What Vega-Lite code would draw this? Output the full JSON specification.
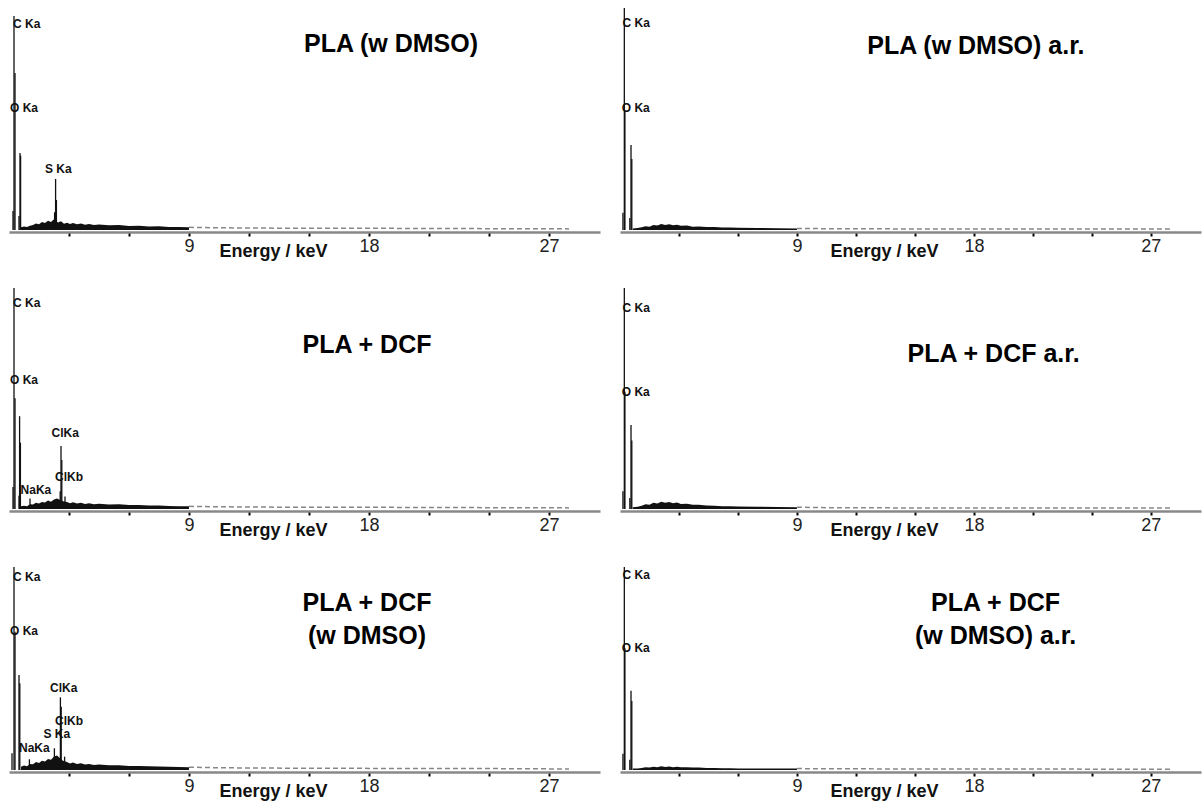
{
  "$schema": "https://vega.github.io/schema/vega-lite/v6.json",
  "background": "white",
  "padding": {"left": 9, "top": 7, "right": 1, "bottom": 1},
  "columns": 2,
  "spacing": {"row": 58, "column": 20},
  "align": "each",
  "bounds": "flush",
  "center": false,
  "config": {
    "view": {"stroke": null},
    "axis": {
      "grid": false,
      "ticks": true,
      "domainColor": "#888888",
      "domainWidth": 2.5,
      "tickColor": "#000000",
      "tickWidth": 2,
      "tickSize": 4,
      "labelFont": "Liberation Sans",
      "labelFontSize": 18,
      "labelColor": "#222222",
      "labelPadding": 1,
      "labelOverlap": false,
      "titleFont": "Liberation Sans",
      "titleFontSize": 18,
      "titleFontWeight": "bold",
      "titleColor": "#111111",
      "titleX": 264,
      "titleY": 19,
      "titleBaseline": "middle",
      "titleAlign": "center"
    }
  },
  "datasets": {
    "rows": [
      {"p":"A","k":"pk","e":0.2,"c":8.6},{"p":"A","k":"pk","e":0.25,"c":96.4},{"p":"A","k":"pk","e":0.3,"c":70.7},{"p":"A","k":"pk","e":0.5,"c":6.3},{"p":"A","k":"pk","e":0.55,"c":34.7},{"p":"A","k":"pk","e":0.58,"c":33.5},{"p":"A","k":"pk","e":2.28,"c":8},{"p":"A","k":"pk","e":2.33,"c":23},{"p":"A","k":"pk","e":2.37,"c":13.5},
      {"p":"A","k":"bg","e":0.6,"c":1.2},{"p":"A","k":"bg","e":0.75,"c":1.6},{"p":"A","k":"bg","e":0.9,"c":1.3},{"p":"A","k":"bg","e":1.05,"c":1.9},{"p":"A","k":"bg","e":1.2,"c":2.2},{"p":"A","k":"bg","e":1.35,"c":2.9},{"p":"A","k":"bg","e":1.5,"c":2.6},{"p":"A","k":"bg","e":1.65,"c":3.6},{"p":"A","k":"bg","e":1.8,"c":3.1},{"p":"A","k":"bg","e":1.95,"c":4.2},{"p":"A","k":"bg","e":2.1,"c":3.6},{"p":"A","k":"bg","e":2.25,"c":4.8},{"p":"A","k":"bg","e":2.45,"c":3.4},{"p":"A","k":"bg","e":2.6,"c":3.9},{"p":"A","k":"bg","e":2.75,"c":2.8},{"p":"A","k":"bg","e":2.9,"c":3.3},{"p":"A","k":"bg","e":3.05,"c":2.7},{"p":"A","k":"bg","e":3.2,"c":3.1},{"p":"A","k":"bg","e":3.4,"c":2.6},{"p":"A","k":"bg","e":3.6,"c":2.9},{"p":"A","k":"bg","e":3.8,"c":2.4},{"p":"A","k":"bg","e":4.0,"c":2.7},{"p":"A","k":"bg","e":4.25,"c":2.2},{"p":"A","k":"bg","e":4.5,"c":2.5},{"p":"A","k":"bg","e":5.0,"c":2.1},{"p":"A","k":"bg","e":5.5,"c":2.2},{"p":"A","k":"bg","e":6.0,"c":1.8},{"p":"A","k":"bg","e":6.5,"c":1.9},{"p":"A","k":"bg","e":7.0,"c":1.6},{"p":"A","k":"bg","e":7.5,"c":1.7},{"p":"A","k":"bg","e":8.0,"c":1.4},{"p":"A","k":"bg","e":8.5,"c":1.4},{"p":"A","k":"bg","e":9.0,"c":1.2},{"p":"A","k":"bg","e":10.5,"c":1.0},{"p":"A","k":"bg","e":12,"c":0.9},{"p":"A","k":"bg","e":14,"c":0.8},{"p":"A","k":"bg","e":16,"c":0.8},{"p":"A","k":"bg","e":18,"c":0.8},{"p":"A","k":"bg","e":20,"c":0.7},{"p":"A","k":"bg","e":22,"c":0.7},{"p":"A","k":"bg","e":24,"c":0.6},{"p":"A","k":"bg","e":26,"c":0.6},{"p":"A","k":"bg","e":28,"c":0.5},
      {"p":"A","k":"lab","e":0.2,"c":92.8,"t":"C Ka"},{"p":"A","k":"lab","e":0.05,"c":55,"t":"O Ka"},{"p":"A","k":"lab","e":1.8,"c":27.5,"t":"S Ka"},
      {"p":"A","k":"ttl","e":19.1,"c":83.8,"t":"PLA (w DMSO)"},

      {"p":"B","k":"pk","e":0.2,"c":10},{"p":"B","k":"pk","e":0.25,"c":100},{"p":"B","k":"pk","e":0.3,"c":50.1},{"p":"B","k":"pk","e":0.5,"c":6},{"p":"B","k":"pk","e":0.53,"c":42},{"p":"B","k":"pk","e":0.57,"c":30},{"p":"B","k":"pk","e":1.05,"c":4.8},{"p":"B","k":"pk","e":2.56,"c":8},{"p":"B","k":"pk","e":2.6,"c":28.5},{"p":"B","k":"pk","e":2.64,"c":22.2},{"p":"B","k":"pk","e":2.8,"c":5.6},
      {"p":"B","k":"bg","e":0.6,"c":1.2},{"p":"B","k":"bg","e":0.75,"c":1.5},{"p":"B","k":"bg","e":0.9,"c":1.3},{"p":"B","k":"bg","e":1.05,"c":2.1},{"p":"B","k":"bg","e":1.2,"c":2.0},{"p":"B","k":"bg","e":1.35,"c":2.8},{"p":"B","k":"bg","e":1.5,"c":2.5},{"p":"B","k":"bg","e":1.65,"c":3.2},{"p":"B","k":"bg","e":1.8,"c":2.9},{"p":"B","k":"bg","e":1.95,"c":3.8},{"p":"B","k":"bg","e":2.1,"c":3.3},{"p":"B","k":"bg","e":2.25,"c":4.3},{"p":"B","k":"bg","e":2.4,"c":4.8},{"p":"B","k":"bg","e":2.7,"c":3.5},{"p":"B","k":"bg","e":2.9,"c":3.2},{"p":"B","k":"bg","e":3.05,"c":2.6},{"p":"B","k":"bg","e":3.2,"c":3.0},{"p":"B","k":"bg","e":3.4,"c":2.5},{"p":"B","k":"bg","e":3.6,"c":2.8},{"p":"B","k":"bg","e":3.8,"c":2.3},{"p":"B","k":"bg","e":4.0,"c":2.6},{"p":"B","k":"bg","e":4.25,"c":2.1},{"p":"B","k":"bg","e":4.5,"c":2.4},{"p":"B","k":"bg","e":5.0,"c":2.0},{"p":"B","k":"bg","e":5.5,"c":2.1},{"p":"B","k":"bg","e":6.0,"c":1.8},{"p":"B","k":"bg","e":6.5,"c":1.8},{"p":"B","k":"bg","e":7.0,"c":1.6},{"p":"B","k":"bg","e":7.5,"c":1.6},{"p":"B","k":"bg","e":8.0,"c":1.4},{"p":"B","k":"bg","e":8.5,"c":1.3},{"p":"B","k":"bg","e":9.0,"c":1.2},{"p":"B","k":"bg","e":10.5,"c":1.0},{"p":"B","k":"bg","e":12,"c":0.9},{"p":"B","k":"bg","e":14,"c":0.8},{"p":"B","k":"bg","e":16,"c":0.8},{"p":"B","k":"bg","e":18,"c":0.8},{"p":"B","k":"bg","e":20,"c":0.7},{"p":"B","k":"bg","e":22,"c":0.7},{"p":"B","k":"bg","e":24,"c":0.6},{"p":"B","k":"bg","e":26,"c":0.6},{"p":"B","k":"bg","e":28,"c":0.5},
      {"p":"B","k":"lab","e":0.2,"c":93.3,"t":"C Ka"},{"p":"B","k":"lab","e":0.05,"c":58.4,"t":"O Ka"},{"p":"B","k":"lab","e":2.13,"c":34.5,"t":"ClKa"},{"p":"B","k":"lab","e":2.3,"c":14.6,"t":"ClKb"},{"p":"B","k":"lab","e":0.58,"c":8.6,"t":"NaKa"},
      {"p":"B","k":"ttl","e":17.9,"c":74,"t":"PLA + DCF"},

      {"p":"C","k":"pk","e":0.15,"c":8.2},{"p":"C","k":"pk","e":0.25,"c":100},{"p":"C","k":"pk","e":0.3,"c":68.1},{"p":"C","k":"pk","e":0.5,"c":46.8},{"p":"C","k":"pk","e":0.54,"c":42.7},{"p":"C","k":"pk","e":1.02,"c":5.3},{"p":"C","k":"pk","e":2.27,"c":10.7},{"p":"C","k":"pk","e":2.57,"c":35.8},{"p":"C","k":"pk","e":2.61,"c":31.2},{"p":"C","k":"pk","e":2.78,"c":6.6},
      {"p":"C","k":"bg","e":0.6,"c":1.6},{"p":"C","k":"bg","e":0.75,"c":2.2},{"p":"C","k":"bg","e":0.9,"c":1.9},{"p":"C","k":"bg","e":1.05,"c":3.0},{"p":"C","k":"bg","e":1.2,"c":2.8},{"p":"C","k":"bg","e":1.35,"c":3.9},{"p":"C","k":"bg","e":1.5,"c":3.5},{"p":"C","k":"bg","e":1.65,"c":4.6},{"p":"C","k":"bg","e":1.8,"c":4.2},{"p":"C","k":"bg","e":1.95,"c":5.4},{"p":"C","k":"bg","e":2.1,"c":5.0},{"p":"C","k":"bg","e":2.25,"c":6.6},{"p":"C","k":"bg","e":2.4,"c":7.2},{"p":"C","k":"bg","e":2.7,"c":4.6},{"p":"C","k":"bg","e":2.9,"c":4.0},{"p":"C","k":"bg","e":3.05,"c":3.2},{"p":"C","k":"bg","e":3.2,"c":3.7},{"p":"C","k":"bg","e":3.4,"c":3.0},{"p":"C","k":"bg","e":3.6,"c":3.3},{"p":"C","k":"bg","e":3.8,"c":2.7},{"p":"C","k":"bg","e":4.0,"c":3.0},{"p":"C","k":"bg","e":4.25,"c":2.5},{"p":"C","k":"bg","e":4.5,"c":2.7},{"p":"C","k":"bg","e":5.0,"c":2.3},{"p":"C","k":"bg","e":5.5,"c":2.3},{"p":"C","k":"bg","e":6.0,"c":2.0},{"p":"C","k":"bg","e":6.5,"c":2.0},{"p":"C","k":"bg","e":7.0,"c":1.8},{"p":"C","k":"bg","e":7.5,"c":1.7},{"p":"C","k":"bg","e":8.0,"c":1.6},{"p":"C","k":"bg","e":8.5,"c":1.5},{"p":"C","k":"bg","e":9.0,"c":1.4},{"p":"C","k":"bg","e":10.5,"c":1.1},{"p":"C","k":"bg","e":12,"c":1.0},{"p":"C","k":"bg","e":14,"c":0.9},{"p":"C","k":"bg","e":16,"c":0.9},{"p":"C","k":"bg","e":18,"c":0.8},{"p":"C","k":"bg","e":20,"c":0.8},{"p":"C","k":"bg","e":22,"c":0.7},{"p":"C","k":"bg","e":24,"c":0.7},{"p":"C","k":"bg","e":26,"c":0.6},{"p":"C","k":"bg","e":28,"c":0.5},
      {"p":"C","k":"lab","e":0.2,"c":95.2,"t":"C Ka"},{"p":"C","k":"lab","e":0.05,"c":68.6,"t":"O Ka"},{"p":"C","k":"lab","e":2.05,"c":40.5,"t":"ClKa"},{"p":"C","k":"lab","e":2.3,"c":24.3,"t":"ClKb"},{"p":"C","k":"lab","e":1.72,"c":17.7,"t":"S Ka"},{"p":"C","k":"lab","e":0.5,"c":10.7,"t":"NaKa"},
      {"p":"C","k":"ttl","e":17.9,"c":82.3,"t":"PLA + DCF\n(w DMSO)"},

      {"p":"D","k":"pk","e":0.15,"c":7.8},{"p":"D","k":"pk","e":0.22,"c":100},{"p":"D","k":"pk","e":0.25,"c":53.6},{"p":"D","k":"pk","e":0.5,"c":5.4},{"p":"D","k":"pk","e":0.56,"c":38.3},{"p":"D","k":"pk","e":0.6,"c":32},
      {"p":"D","k":"bg","e":0.65,"c":0.7},{"p":"D","k":"bg","e":0.9,"c":0.9},{"p":"D","k":"bg","e":1.1,"c":1.2},{"p":"D","k":"bg","e":1.3,"c":1.7},{"p":"D","k":"bg","e":1.5,"c":1.5},{"p":"D","k":"bg","e":1.7,"c":2.3},{"p":"D","k":"bg","e":1.9,"c":2.0},{"p":"D","k":"bg","e":2.1,"c":2.7},{"p":"D","k":"bg","e":2.3,"c":2.2},{"p":"D","k":"bg","e":2.5,"c":2.6},{"p":"D","k":"bg","e":2.7,"c":2.1},{"p":"D","k":"bg","e":2.9,"c":2.4},{"p":"D","k":"bg","e":3.1,"c":1.9},{"p":"D","k":"bg","e":3.4,"c":2.0},{"p":"D","k":"bg","e":3.7,"c":1.5},{"p":"D","k":"bg","e":4.0,"c":1.6},{"p":"D","k":"bg","e":4.4,"c":1.3},{"p":"D","k":"bg","e":4.8,"c":1.3},{"p":"D","k":"bg","e":5.2,"c":1.1},{"p":"D","k":"bg","e":5.6,"c":1.1},{"p":"D","k":"bg","e":6.0,"c":1.0},{"p":"D","k":"bg","e":7.0,"c":0.9},{"p":"D","k":"bg","e":8.0,"c":0.8},{"p":"D","k":"bg","e":9.0,"c":0.7},{"p":"D","k":"bg","e":10.5,"c":0.6},{"p":"D","k":"bg","e":12,"c":0.6},{"p":"D","k":"bg","e":14,"c":0.5},{"p":"D","k":"bg","e":16,"c":0.5},{"p":"D","k":"bg","e":18,"c":0.5},{"p":"D","k":"bg","e":20,"c":0.5},{"p":"D","k":"bg","e":22,"c":0.5},{"p":"D","k":"bg","e":24,"c":0.4},{"p":"D","k":"bg","e":26,"c":0.4},{"p":"D","k":"bg","e":28,"c":0.4},
      {"p":"D","k":"lab","e":0.13,"c":93.2,"t":"C Ka"},{"p":"D","k":"lab","e":0.09,"c":54.8,"t":"O Ka"},
      {"p":"D","k":"ttl","e":18.1,"c":82.9,"t":"PLA (w DMSO) a.r."},

      {"p":"E","k":"pk","e":0.15,"c":8},{"p":"E","k":"pk","e":0.22,"c":100},{"p":"E","k":"pk","e":0.25,"c":53},{"p":"E","k":"pk","e":0.5,"c":5},{"p":"E","k":"pk","e":0.56,"c":38},{"p":"E","k":"pk","e":0.6,"c":31},
      {"p":"E","k":"bg","e":0.65,"c":0.8},{"p":"E","k":"bg","e":0.9,"c":1.0},{"p":"E","k":"bg","e":1.1,"c":1.5},{"p":"E","k":"bg","e":1.3,"c":2.1},{"p":"E","k":"bg","e":1.5,"c":1.9},{"p":"E","k":"bg","e":1.7,"c":2.8},{"p":"E","k":"bg","e":1.9,"c":2.5},{"p":"E","k":"bg","e":2.1,"c":3.3},{"p":"E","k":"bg","e":2.3,"c":2.8},{"p":"E","k":"bg","e":2.5,"c":3.2},{"p":"E","k":"bg","e":2.7,"c":2.6},{"p":"E","k":"bg","e":2.9,"c":2.9},{"p":"E","k":"bg","e":3.1,"c":2.3},{"p":"E","k":"bg","e":3.4,"c":2.4},{"p":"E","k":"bg","e":3.7,"c":1.9},{"p":"E","k":"bg","e":4.0,"c":1.9},{"p":"E","k":"bg","e":4.4,"c":1.6},{"p":"E","k":"bg","e":4.8,"c":1.5},{"p":"E","k":"bg","e":5.2,"c":1.3},{"p":"E","k":"bg","e":5.6,"c":1.3},{"p":"E","k":"bg","e":6.0,"c":1.1},{"p":"E","k":"bg","e":7.0,"c":1.0},{"p":"E","k":"bg","e":8.0,"c":0.9},{"p":"E","k":"bg","e":9.0,"c":0.8},{"p":"E","k":"bg","e":10.5,"c":0.6},{"p":"E","k":"bg","e":12,"c":0.6},{"p":"E","k":"bg","e":14,"c":0.5},{"p":"E","k":"bg","e":16,"c":0.5},{"p":"E","k":"bg","e":18,"c":0.5},{"p":"E","k":"bg","e":20,"c":0.5},{"p":"E","k":"bg","e":22,"c":0.5},{"p":"E","k":"bg","e":24,"c":0.4},{"p":"E","k":"bg","e":26,"c":0.4},{"p":"E","k":"bg","e":28,"c":0.4},
      {"p":"E","k":"lab","e":0.13,"c":91,"t":"C Ka"},{"p":"E","k":"lab","e":0.09,"c":53,"t":"O Ka"},
      {"p":"E","k":"ttl","e":19,"c":70,"t":"PLA + DCF a.r."},

      {"p":"F","k":"pk","e":0.15,"c":8},{"p":"F","k":"pk","e":0.22,"c":100},{"p":"F","k":"pk","e":0.25,"c":60},{"p":"F","k":"pk","e":0.5,"c":5},{"p":"F","k":"pk","e":0.56,"c":39},{"p":"F","k":"pk","e":0.6,"c":34},
      {"p":"F","k":"bg","e":0.65,"c":0.7},{"p":"F","k":"bg","e":0.9,"c":0.8},{"p":"F","k":"bg","e":1.1,"c":1.0},{"p":"F","k":"bg","e":1.3,"c":1.3},{"p":"F","k":"bg","e":1.5,"c":1.2},{"p":"F","k":"bg","e":1.7,"c":1.6},{"p":"F","k":"bg","e":1.9,"c":1.4},{"p":"F","k":"bg","e":2.1,"c":1.8},{"p":"F","k":"bg","e":2.3,"c":1.5},{"p":"F","k":"bg","e":2.5,"c":1.7},{"p":"F","k":"bg","e":2.7,"c":1.4},{"p":"F","k":"bg","e":2.9,"c":1.6},{"p":"F","k":"bg","e":3.1,"c":1.3},{"p":"F","k":"bg","e":3.4,"c":1.4},{"p":"F","k":"bg","e":3.7,"c":1.2},{"p":"F","k":"bg","e":4.0,"c":1.2},{"p":"F","k":"bg","e":4.4,"c":1.0},{"p":"F","k":"bg","e":4.8,"c":1.0},{"p":"F","k":"bg","e":5.2,"c":0.9},{"p":"F","k":"bg","e":5.6,"c":0.9},{"p":"F","k":"bg","e":6.0,"c":0.8},{"p":"F","k":"bg","e":7.0,"c":0.8},{"p":"F","k":"bg","e":8.0,"c":0.7},{"p":"F","k":"bg","e":9.0,"c":0.7},{"p":"F","k":"bg","e":10.5,"c":0.6},{"p":"F","k":"bg","e":12,"c":0.6},{"p":"F","k":"bg","e":14,"c":0.5},{"p":"F","k":"bg","e":16,"c":0.5},{"p":"F","k":"bg","e":18,"c":0.5},{"p":"F","k":"bg","e":20,"c":0.5},{"p":"F","k":"bg","e":22,"c":0.5},{"p":"F","k":"bg","e":24,"c":0.4},{"p":"F","k":"bg","e":26,"c":0.4},{"p":"F","k":"bg","e":28,"c":0.4},
      {"p":"F","k":"lab","e":0.13,"c":96,"t":"C Ka"},{"p":"F","k":"lab","e":0.09,"c":60,"t":"O Ka"},
      {"p":"F","k":"ttl","e":19.1,"c":82.3,"t":"PLA + DCF\n(w DMSO) a.r."}
    ]
  },
  "concat": [
    {
      "width": 591, "height": 222,
      "data": {"name": "rows"},
      "transform": [{"filter": "datum.p === 'A'"}],
      "encoding": {
        "x": {"field": "e", "type": "quantitative", "title": "Energy / keV", "scale": {"domain": [0, 29.55], "nice": false, "zero": false}, "axis": {"values": [3, 6, 9, 12, 15, 18, 21, 24, 27], "labelExpr": "datum.value % 9 === 0 ? datum.label : ''", "offset": 2}},
        "y": {"field": "c", "type": "quantitative", "scale": {"domain": [0, 100], "nice": false}, "axis": null}
      },
      "layer": [
        {"transform": [{"filter": "datum.k === 'bg' && datum.e <= 9"}], "mark": {"type": "area", "color": "#111111"}},
        {"transform": [{"filter": "datum.k === 'bg' && datum.e >= 9"}], "mark": {"type": "line", "color": "#888888", "strokeWidth": 1.5, "strokeDash": [5, 3]}},
        {"transform": [{"filter": "datum.k === 'lab'"}], "mark": {"type": "text", "align": "left", "baseline": "middle", "font": "Liberation Sans", "fontSize": 12, "fontWeight": "bold", "color": "#111111"}, "encoding": {"text": {"field": "t"}}},
        {"transform": [{"filter": "datum.k === 'ttl'"}], "mark": {"type": "text", "align": "center", "baseline": "middle", "font": "Liberation Sans", "fontSize": 25, "fontWeight": "bold", "color": "#000000", "lineBreak": "\n", "lineHeight": 33}, "encoding": {"text": {"field": "t"}}},
        {"transform": [{"filter": "datum.k === 'pk'"}], "mark": {"type": "rule", "color": "#111111", "strokeWidth": 1.3}, "encoding": {"y2": {"datum": 0}}}
      ]
    },
    {
      "width": 581, "height": 222,
      "data": {"name": "rows"},
      "transform": [{"filter": "datum.p === 'D'"}],
      "encoding": {
        "x": {"field": "e", "type": "quantitative", "title": "Energy / keV", "scale": {"domain": [0, 29.55], "nice": false, "zero": false}, "axis": {"values": [3, 6, 9, 12, 15, 18, 21, 24, 27], "labelExpr": "datum.value % 9 === 0 ? datum.label : ''", "offset": 2}},
        "y": {"field": "c", "type": "quantitative", "scale": {"domain": [0, 100], "nice": false}, "axis": null}
      },
      "layer": [
        {"transform": [{"filter": "datum.k === 'bg' && datum.e <= 9"}], "mark": {"type": "area", "color": "#111111"}},
        {"transform": [{"filter": "datum.k === 'bg' && datum.e >= 9"}], "mark": {"type": "line", "color": "#888888", "strokeWidth": 1.5, "strokeDash": [5, 3]}},
        {"transform": [{"filter": "datum.k === 'lab'"}], "mark": {"type": "text", "align": "left", "baseline": "middle", "font": "Liberation Sans", "fontSize": 12, "fontWeight": "bold", "color": "#111111"}, "encoding": {"text": {"field": "t"}}},
        {"transform": [{"filter": "datum.k === 'ttl'"}], "mark": {"type": "text", "align": "center", "baseline": "middle", "font": "Liberation Sans", "fontSize": 25, "fontWeight": "bold", "color": "#000000", "lineBreak": "\n", "lineHeight": 33}, "encoding": {"text": {"field": "t"}}},
        {"transform": [{"filter": "datum.k === 'pk'"}], "mark": {"type": "rule", "color": "#111111", "strokeWidth": 1.3}, "encoding": {"y2": {"datum": 0}}}
      ]
    },
    {
      "width": 591, "height": 221,
      "data": {"name": "rows"},
      "transform": [{"filter": "datum.p === 'B'"}],
      "encoding": {
        "x": {"field": "e", "type": "quantitative", "title": "Energy / keV", "scale": {"domain": [0, 29.55], "nice": false, "zero": false}, "axis": {"values": [3, 6, 9, 12, 15, 18, 21, 24, 27], "labelExpr": "datum.value % 9 === 0 ? datum.label : ''", "offset": 2}},
        "y": {"field": "c", "type": "quantitative", "scale": {"domain": [0, 100], "nice": false}, "axis": null}
      },
      "layer": [
        {"transform": [{"filter": "datum.k === 'bg' && datum.e <= 9"}], "mark": {"type": "area", "color": "#111111"}},
        {"transform": [{"filter": "datum.k === 'bg' && datum.e >= 9"}], "mark": {"type": "line", "color": "#888888", "strokeWidth": 1.5, "strokeDash": [5, 3]}},
        {"transform": [{"filter": "datum.k === 'lab'"}], "mark": {"type": "text", "align": "left", "baseline": "middle", "font": "Liberation Sans", "fontSize": 12, "fontWeight": "bold", "color": "#111111"}, "encoding": {"text": {"field": "t"}}},
        {"transform": [{"filter": "datum.k === 'ttl'"}], "mark": {"type": "text", "align": "center", "baseline": "middle", "font": "Liberation Sans", "fontSize": 25, "fontWeight": "bold", "color": "#000000", "lineBreak": "\n", "lineHeight": 33}, "encoding": {"text": {"field": "t"}}},
        {"transform": [{"filter": "datum.k === 'pk'"}], "mark": {"type": "rule", "color": "#111111", "strokeWidth": 1.3}, "encoding": {"y2": {"datum": 0}}}
      ]
    },
    {
      "width": 581, "height": 221,
      "data": {"name": "rows"},
      "transform": [{"filter": "datum.p === 'E'"}],
      "encoding": {
        "x": {"field": "e", "type": "quantitative", "title": "Energy / keV", "scale": {"domain": [0, 29.55], "nice": false, "zero": false}, "axis": {"values": [3, 6, 9, 12, 15, 18, 21, 24, 27], "labelExpr": "datum.value % 9 === 0 ? datum.label : ''", "offset": 2}},
        "y": {"field": "c", "type": "quantitative", "scale": {"domain": [0, 100], "nice": false}, "axis": null}
      },
      "layer": [
        {"transform": [{"filter": "datum.k === 'bg' && datum.e <= 9"}], "mark": {"type": "area", "color": "#111111"}},
        {"transform": [{"filter": "datum.k === 'bg' && datum.e >= 9"}], "mark": {"type": "line", "color": "#888888", "strokeWidth": 1.5, "strokeDash": [5, 3]}},
        {"transform": [{"filter": "datum.k === 'lab'"}], "mark": {"type": "text", "align": "left", "baseline": "middle", "font": "Liberation Sans", "fontSize": 12, "fontWeight": "bold", "color": "#111111"}, "encoding": {"text": {"field": "t"}}},
        {"transform": [{"filter": "datum.k === 'ttl'"}], "mark": {"type": "text", "align": "center", "baseline": "middle", "font": "Liberation Sans", "fontSize": 25, "fontWeight": "bold", "color": "#000000", "lineBreak": "\n", "lineHeight": 33}, "encoding": {"text": {"field": "t"}}},
        {"transform": [{"filter": "datum.k === 'pk'"}], "mark": {"type": "rule", "color": "#111111", "strokeWidth": 1.3}, "encoding": {"y2": {"datum": 0}}}
      ]
    },
    {
      "width": 591, "height": 203,
      "data": {"name": "rows"},
      "transform": [{"filter": "datum.p === 'C'"}],
      "encoding": {
        "x": {"field": "e", "type": "quantitative", "title": "Energy / keV", "scale": {"domain": [0, 29.55], "nice": false, "zero": false}, "axis": {"values": [3, 6, 9, 12, 15, 18, 21, 24, 27], "labelExpr": "datum.value % 9 === 0 ? datum.label : ''", "offset": 2}},
        "y": {"field": "c", "type": "quantitative", "scale": {"domain": [0, 100], "nice": false}, "axis": null}
      },
      "layer": [
        {"transform": [{"filter": "datum.k === 'bg' && datum.e <= 9"}], "mark": {"type": "area", "color": "#111111"}},
        {"transform": [{"filter": "datum.k === 'bg' && datum.e >= 9"}], "mark": {"type": "line", "color": "#888888", "strokeWidth": 1.5, "strokeDash": [5, 3]}},
        {"transform": [{"filter": "datum.k === 'lab'"}], "mark": {"type": "text", "align": "left", "baseline": "middle", "font": "Liberation Sans", "fontSize": 12, "fontWeight": "bold", "color": "#111111"}, "encoding": {"text": {"field": "t"}}},
        {"transform": [{"filter": "datum.k === 'ttl'"}], "mark": {"type": "text", "align": "center", "baseline": "middle", "font": "Liberation Sans", "fontSize": 25, "fontWeight": "bold", "color": "#000000", "lineBreak": "\n", "lineHeight": 33}, "encoding": {"text": {"field": "t"}}},
        {"transform": [{"filter": "datum.k === 'pk'"}], "mark": {"type": "rule", "color": "#111111", "strokeWidth": 1.3}, "encoding": {"y2": {"datum": 0}}}
      ]
    },
    {
      "width": 581, "height": 203,
      "data": {"name": "rows"},
      "transform": [{"filter": "datum.p === 'F'"}],
      "encoding": {
        "x": {"field": "e", "type": "quantitative", "title": "Energy / keV", "scale": {"domain": [0, 29.55], "nice": false, "zero": false}, "axis": {"values": [3, 6, 9, 12, 15, 18, 21, 24, 27], "labelExpr": "datum.value % 9 === 0 ? datum.label : ''", "offset": 2}},
        "y": {"field": "c", "type": "quantitative", "scale": {"domain": [0, 100], "nice": false}, "axis": null}
      },
      "layer": [
        {"transform": [{"filter": "datum.k === 'bg' && datum.e <= 9"}], "mark": {"type": "area", "color": "#111111"}},
        {"transform": [{"filter": "datum.k === 'bg' && datum.e >= 9"}], "mark": {"type": "line", "color": "#888888", "strokeWidth": 1.5, "strokeDash": [5, 3]}},
        {"transform": [{"filter": "datum.k === 'lab'"}], "mark": {"type": "text", "align": "left", "baseline": "middle", "font": "Liberation Sans", "fontSize": 12, "fontWeight": "bold", "color": "#111111"}, "encoding": {"text": {"field": "t"}}},
        {"transform": [{"filter": "datum.k === 'ttl'"}], "mark": {"type": "text", "align": "center", "baseline": "middle", "font": "Liberation Sans", "fontSize": 25, "fontWeight": "bold", "color": "#000000", "lineBreak": "\n", "lineHeight": 33}, "encoding": {"text": {"field": "t"}}},
        {"transform": [{"filter": "datum.k === 'pk'"}], "mark": {"type": "rule", "color": "#111111", "strokeWidth": 1.3}, "encoding": {"y2": {"datum": 0}}}
      ]
    }
  ]
}
